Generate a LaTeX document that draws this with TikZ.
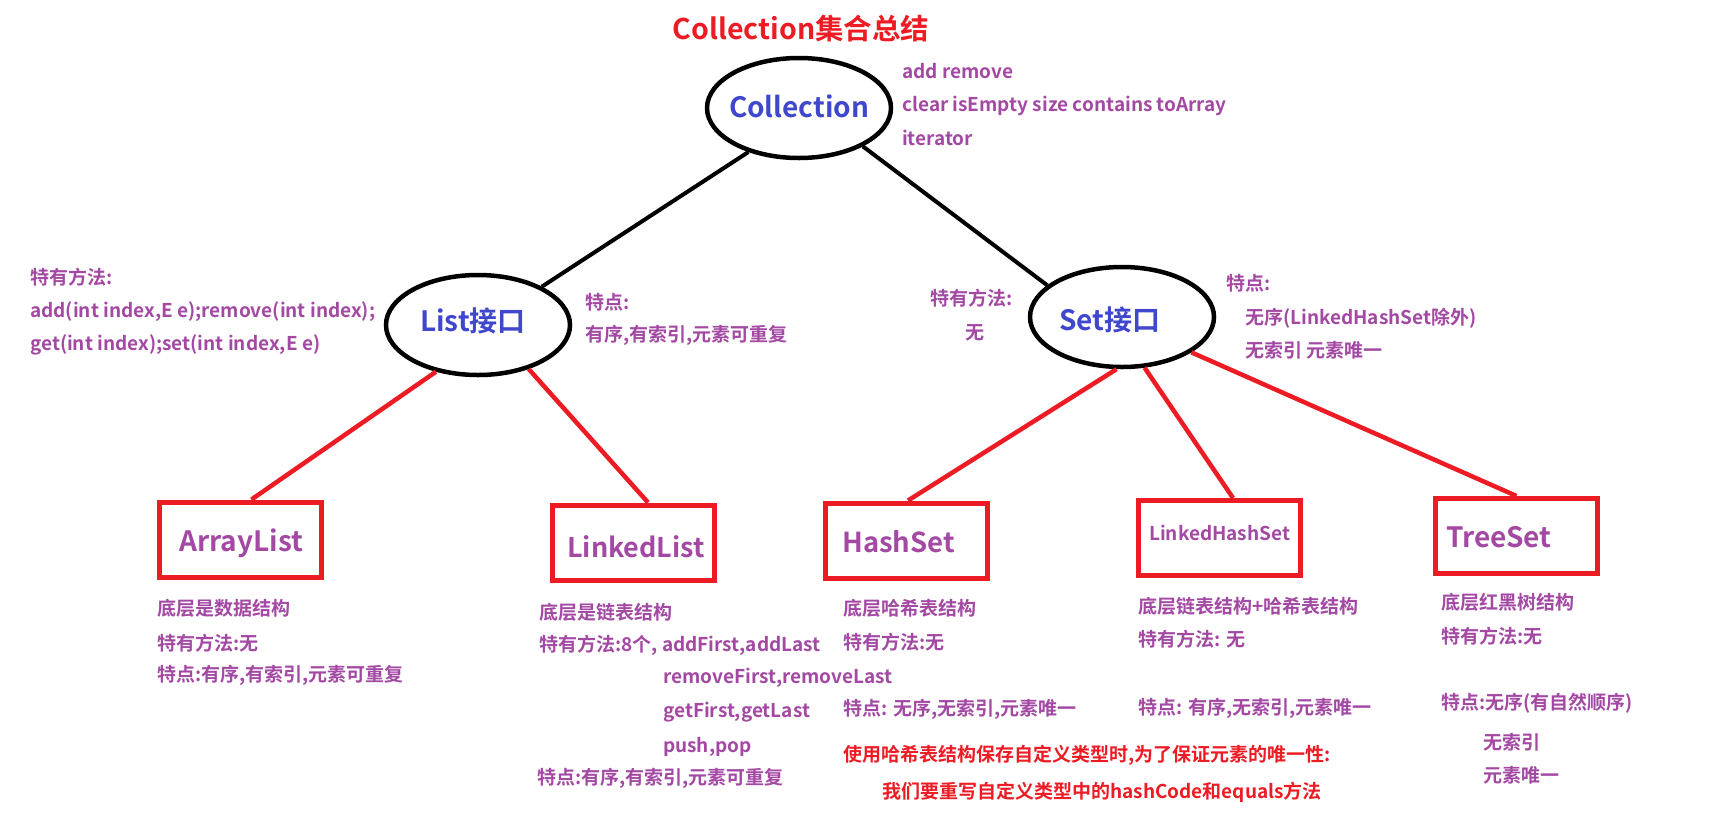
\documentclass[tikz,border=0pt]{standalone}
\usepackage{fontspec}
\setmainfont{Noto Sans CJK SC}[BoldFont={Noto Sans CJK SC Bold}]
\usetikzlibrary{shapes.geometric}
\definecolor{pur}{HTML}{A349A4}
\definecolor{blu}{HTML}{3F48CC}
\definecolor{rd}{HTML}{ED1C24}
\begin{document}
\begin{tikzpicture}[x=1pt,y=-1pt,
  oval/.style={draw=black, line width=4.5pt, ellipse, minimum width=184pt, minimum height=100pt, inner sep=0pt},
  box/.style={draw=rd, line width=5pt, rectangle, minimum width=162pt, minimum height=75pt, inner sep=0pt},
  body/.style={text=pur, font=\bfseries\fontsize{19}{22}\selectfont, anchor=west, inner sep=0pt},
  redtxt/.style={text=rd, font=\bfseries\fontsize{19}{22}\selectfont, anchor=west, inner sep=0pt},
  boxlbl/.style={text=pur, font=\bfseries\fontsize{28}{32}\selectfont, anchor=west, inner sep=0pt},
  ovallbl/.style={text=blu, font=\bfseries\fontsize{28}{32}\selectfont, inner sep=0pt},
  blackline/.style={draw=black, line width=4pt},
  redline/.style={draw=rd, line width=4.5pt}
]
\useasboundingbox (0,0) rectangle (1710,815);
\fill[white] (0,0) rectangle (1710,815);

% title
\node[text=rd, font=\bfseries\fontsize{28.5}{32}\selectfont, inner sep=0pt] (title) at (801,29) {Collection集合总结};

% ellipses
\node[oval] (coll) at (799,108) {};
\node[ovallbl] (colllbl) at (799,106) {Collection};
\node[oval] (list) at (478,325) {};
\node[ovallbl] (listlbl) at (473,321) {List接口};
\node[oval] (set) at (1122,317) {};
\node[ovallbl] (setlbl) at (1110,320) {Set接口};

% boxes
\node[box] (arraylist) at (240.5,539.5) {};
\node[boxlbl] (arraylistlbl) at (179,543) {ArrayList};
\node[box] (linkedlist) at (633,542.5) {};
\node[boxlbl, font=\bfseries\fontsize{27}{32}\selectfont] (linkedlistlbl) at (567,547) {LinkedList};
\node[box] (hashset) at (906.5,540.5) {};
\node[boxlbl, font=\bfseries\fontsize{27.5}{32}\selectfont] (hashsetlbl) at (842,542) {HashSet};
\node[box] (lhs) at (1219,538) {};
\node[boxlbl, font=\bfseries\fontsize{19}{24}\selectfont] (lhslbl) at (1149,533) {LinkedHashSet};
\node[box] (treeset) at (1516.5,536) {};
\node[boxlbl] (treesetlbl) at (1446,537) {TreeSet};

% connectors
\draw[blackline] (coll.221) -- (list.31);
\draw[blackline] (coll.329) -- (set.157);
\draw[redline] (list.228) -- ([xshift=11pt]arraylist.north);
\draw[redline] (list.319) -- ([xshift=15pt]linkedlist.north);
\draw[redline] (set.264) -- ([xshift=1.5pt]hashset.north);
\draw[redline] (set.294) -- ([xshift=14pt]lhs.north);
\draw[redline] (set.333) -- (treeset.north);

% Collection methods
\node[body] (cm1) at (902,71) {add remove};
\node[body] (cm2) at (902,106) {clear isEmpty size contains toArray};
\node[body] (cm3) at (902,138) {iterator};

% List notes
\node[body] (lm1) at (30,277) {特有方法:};
\node[body] (lm2) at (30,312) {add(int index,E e);remove(int index);};
\node[body] (lm3) at (30,345) {get(int index);set(int index,E e)};
\node[body] (lf1) at (585,302) {特点:};
\node[body] (lf2) at (585,335) {有序,有索引,元素可重复};

% Set notes
\node[body] (sm1) at (930,298) {特有方法:};
\node[body] (sm2) at (965,333) {无};
\node[body] (sf1) at (1226,283) {特点:};
\node[body] (sf2) at (1245,318) {无序(LinkedHashSet除外)};
\node[body] (sf3) at (1245,350) {无索引 元素唯一};

% ArrayList notes
\node[body] (a1) at (157,608) {底层是数据结构};
\node[body] (a2) at (157,643) {特有方法:无};
\node[body] (a3) at (157,675) {特点:有序,有索引,元素可重复};

% LinkedList notes
\node[body] (b1) at (539,612) {底层是链表结构};
\node[body] (b2) at (539,645) {特有方法:8个, addFirst,addLast};
\node[body] (b3) at (663,678) {removeFirst,removeLast};
\node[body] (b4) at (663,712) {getFirst,getLast};
\node[body] (b5) at (663,747) {push,pop};
\node[body] (b6) at (537,778) {特点:有序,有索引,元素可重复};

% HashSet notes
\node[body] (c1) at (843,608) {底层哈希表结构};
\node[body] (c2) at (843,642) {特有方法:无};
\node[body] (c3) at (843,709) {特点: 无序,无索引,元素唯一};
\node[redtxt] (c4) at (843,755) {使用哈希表结构保存自定义类型时,为了保证元素的唯一性:};
\node[redtxt] (c5) at (882,792) {我们要重写自定义类型中的hashCode和equals方法};

% LinkedHashSet notes
\node[body] (d1) at (1138,606) {底层链表结构+哈希表结构};
\node[body] (d2) at (1138,639) {特有方法: 无};
\node[body] (d3) at (1138,708) {特点: 有序,无索引,元素唯一};

% TreeSet notes
\node[body] (e1) at (1441,602) {底层红黑树结构};
\node[body] (e2) at (1441,636) {特有方法:无};
\node[body] (e3) at (1441,703) {特点:无序(有自然顺序)};
\node[body] (e4) at (1483,742) {无索引};
\node[body] (e5) at (1483,775) {元素唯一};
\end{tikzpicture}
\end{document}
